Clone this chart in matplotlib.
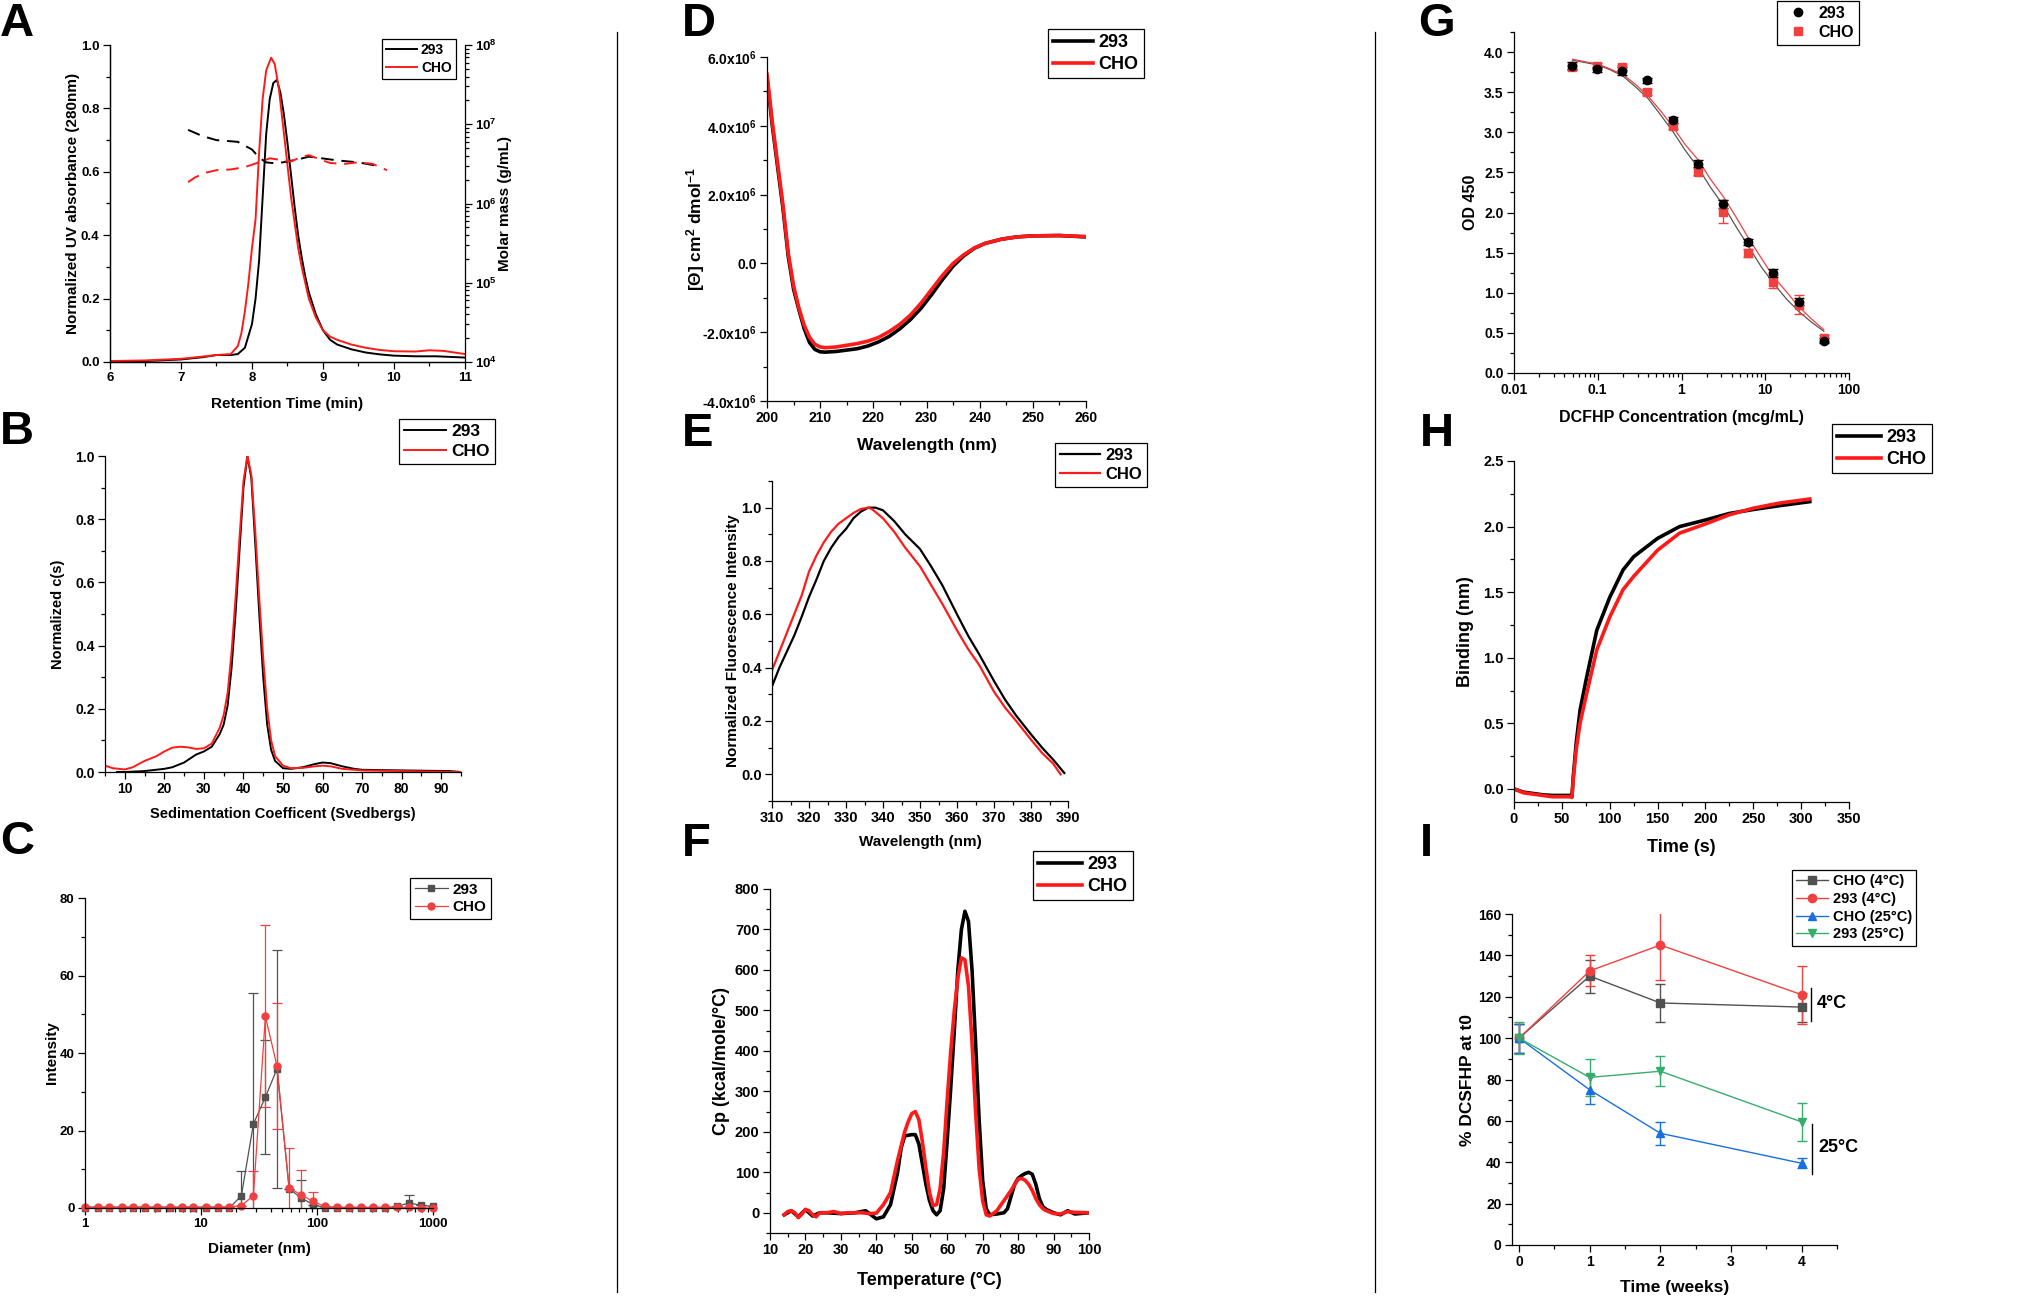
import matplotlib
matplotlib.use("Agg")
import matplotlib.pyplot as plt
from matplotlib.ticker import MultipleLocator, FormatStrFormatter, FixedLocator, FixedFormatter, LogLocator, NullFormatter

# ---------------- data ----------------
# A: SEC-MALS
a_time_293 = [6.0, 6.5, 7.0, 7.3, 7.5, 7.7, 7.8, 7.9, 8.0, 8.05, 8.1, 8.15, 8.2, 8.25, 8.3, 8.35, 8.4, 8.45,
              8.5, 8.55, 8.6, 8.65, 8.7, 8.75, 8.8, 8.9, 9.0, 9.1, 9.2, 9.4, 9.6, 9.8, 10.0, 10.3, 10.6, 11.0]
a_uv_293 = [0.0, 0.003, 0.008, 0.015, 0.022, 0.022, 0.025, 0.045, 0.12, 0.2, 0.32, 0.52, 0.72, 0.83, 0.88, 0.89, 0.85, 0.78,
            0.69, 0.59, 0.49, 0.40, 0.33, 0.27, 0.22, 0.15, 0.10, 0.07, 0.055, 0.04, 0.03, 0.024, 0.02, 0.018, 0.018, 0.014]
a_time_cho = [6.0, 6.5, 7.0, 7.3, 7.5, 7.7, 7.8, 7.85, 7.9, 7.95, 8.0, 8.05, 8.1, 8.15, 8.2, 8.27, 8.32, 8.38, 8.45,
              8.5, 8.55, 8.6, 8.65, 8.7, 8.75, 8.8, 8.9, 9.0, 9.1, 9.2, 9.4, 9.6, 9.8, 10.0, 10.3, 10.5, 10.7, 11.0]
a_uv_cho = [0.003, 0.005, 0.01, 0.017, 0.022, 0.025, 0.05, 0.09, 0.16, 0.25, 0.36, 0.45, 0.66, 0.83, 0.92, 0.96, 0.94, 0.86, 0.72,
            0.62, 0.52, 0.44, 0.36, 0.30, 0.25, 0.20, 0.14, 0.10, 0.08, 0.07, 0.055, 0.045, 0.038, 0.034, 0.033, 0.037, 0.035, 0.025]
a_mm_time_293 = [7.1, 7.3, 7.5, 7.8, 8.0, 8.1, 8.2, 8.35, 8.5, 8.65, 8.8, 9.0, 9.2, 9.5, 9.8]
a_mm_293 = [8.5e6, 7.1e6, 6.3e6, 6.0e6, 4.8e6, 3.8e6, 3.3e6, 3.2e6, 3.4e6, 3.6e6, 3.9e6, 3.7e6, 3.5e6, 3.3e6, 2.95e6]
a_mm_time_cho = [7.1, 7.2, 7.35, 7.5, 7.7, 7.9, 8.1, 8.25, 8.4, 8.55, 8.7, 8.8, 8.95, 9.1, 9.3, 9.5, 9.7, 9.9]
a_mm_cho = [1.86e6, 2.14e6, 2.45e6, 2.63e6, 2.69e6, 2.88e6, 3.31e6, 3.72e6, 3.55e6, 3.39e6, 3.89e6, 4.07e6,
            3.63e6, 3.24e6, 3.16e6, 3.31e6, 3.16e6, 2.63e6]

# B: AUC c(s)
b_s_293 = [8, 10, 15, 20, 22, 25, 28, 30, 32, 34, 35, 36, 37, 38, 39, 40, 41, 42, 43, 44, 45, 46, 47, 48, 50, 52,
           55, 58, 60, 62, 65, 68, 70, 80, 92, 95]
b_cs_293 = [0.0, 0.0, 0.003, 0.01, 0.015, 0.03, 0.055, 0.065, 0.08, 0.12, 0.15, 0.21, 0.33, 0.5, 0.7, 0.9, 1.0, 0.93,
            0.72, 0.5, 0.3, 0.15, 0.07, 0.035, 0.012, 0.01, 0.015, 0.025, 0.03, 0.028, 0.018, 0.01, 0.007, 0.005, 0.003, 0.0]
b_s_cho = [5, 7, 10, 12, 15, 18, 20, 22, 24, 26, 28, 30, 32, 34, 35, 36, 37, 38, 39, 40, 41, 42, 43, 44, 45, 46, 47,
           48, 50, 52, 55, 58, 60, 62, 65, 70, 80, 95]
b_cs_cho = [0.02, 0.012, 0.008, 0.015, 0.035, 0.05, 0.065, 0.077, 0.08, 0.078, 0.073, 0.075, 0.09, 0.14, 0.18, 0.25,
            0.38, 0.55, 0.74, 0.92, 1.0, 0.94, 0.76, 0.55, 0.36, 0.2, 0.1, 0.05, 0.02, 0.012, 0.013, 0.018, 0.02,
            0.018, 0.01, 0.005, 0.003, 0.0]

# C: DLS
c_diam = [1.0, 1.3, 1.6, 2.1, 2.6, 3.3, 4.2, 5.4, 6.8, 8.6, 11, 14, 17.6, 22.3, 28.3, 35.9, 45.2, 57.5, 72.8, 92.5,
          117, 148, 188, 239, 303, 384, 488, 619, 785, 1000]
c_int_293 = [0, 0, 0, 0, 0, 0, 0, 0, 0, 0, 0, 0, 0, 3.2, 21.7, 28.6, 35.9, 5.0, 2.6, 0.9,
             0, 0, 0, 0, 0, 0, 0.4, 1.3, 0.7, 0.4]
c_err_293 = [0, 0, 0, 0, 0, 0, 0, 0, 0, 0, 0, 0, 0, 6.4, 33.8, 14.7, 30.7, 0, 4.7, 0,
             0, 0, 0, 0, 0, 0, 0, 2.0, 0, 0]
c_int_cho = [0.3, 0.3, 0.3, 0.3, 0.3, 0.3, 0.3, 0.3, 0.3, 0.3, 0.3, 0.3, 0.3, 0.6, 3.2, 49.5, 36.6, 5.2, 3.4, 1.7,
             0.4, 0.2, 0.2, 0.2, 0.2, 0.2, 0.2, 0.2, 0.0, 0.0]
c_err_cho = [0, 0, 0, 0, 0, 0, 0, 0, 0, 0, 0, 0, 0, 0, 6.4, 23.5, 16.3, 10.3, 6.3, 2.4,
             0, 0, 0, 0, 0, 0, 0, 0, 0, 0]

# D: CD spectra
d_wl_293 = [200, 201, 202, 203, 204, 205, 206, 207, 208, 209, 210, 211, 213, 215, 217, 219, 221, 223, 225, 227, 229,
            231, 233, 235, 237, 239, 241, 244, 247, 250, 255, 260]
d_cd_293 = [5.4e6, 4.0e6, 2.8e6, 1.6e6, 0.2e6, -0.75e6, -1.35e6, -1.9e6, -2.3e6, -2.5e6, -2.57e6, -2.58e6, -2.56e6,
            -2.52e6, -2.48e6, -2.4e6, -2.28e6, -2.12e6, -1.9e6, -1.63e6, -1.3e6, -0.9e6, -0.47e6, -0.08e6, 0.22e6,
            0.44e6, 0.58e6, 0.7e6, 0.77e6, 0.8e6, 0.81e6, 0.77e6]
d_wl_cho = [200, 201, 202, 203, 204, 205, 206, 207, 208, 209, 210, 211, 213, 215, 217, 219, 221, 223, 225, 227, 229,
            231, 233, 235, 237, 239, 241, 244, 247, 250, 255, 260]
d_cd_cho = [5.5e6, 4.1e6, 2.9e6, 1.7e6, 0.3e6, -0.65e6, -1.3e6, -1.8e6, -2.15e6, -2.35e6, -2.43e6, -2.45e6, -2.43e6,
            -2.38e6, -2.33e6, -2.26e6, -2.15e6, -1.98e6, -1.77e6, -1.5e6, -1.15e6, -0.75e6, -0.35e6, 0.0, 0.25e6,
            0.45e6, 0.58e6, 0.7e6, 0.77e6, 0.8e6, 0.81e6, 0.78e6]

# E: intrinsic fluorescence
e_wl_293 = [310, 312, 314, 316, 318, 320, 322, 324, 326, 328, 330, 332, 334, 336, 338, 340, 343, 346, 350, 353, 356,
            360, 363, 366, 370, 373, 376, 380, 383, 386, 389]
e_fl_293 = [0.33, 0.40, 0.46, 0.52, 0.59, 0.665, 0.73, 0.8, 0.85, 0.89, 0.92, 0.96, 0.985, 1.0, 1.0, 0.99, 0.95, 0.9,
            0.845, 0.78, 0.71, 0.6, 0.52, 0.45, 0.35, 0.28, 0.22, 0.15, 0.1, 0.055, 0.005]
e_wl_cho = [310, 312, 314, 316, 318, 320, 322, 324, 326, 328, 330, 332, 334, 336, 337, 340, 343, 346, 350, 353, 356,
            360, 363, 366, 370, 373, 376, 380, 383, 386, 388]
e_fl_cho = [0.39, 0.46, 0.53, 0.60, 0.67, 0.76, 0.82, 0.87, 0.91, 0.94, 0.96, 0.98, 0.995, 1.0, 0.995, 0.96, 0.91,
            0.85, 0.78, 0.71, 0.64, 0.54, 0.47, 0.41, 0.31, 0.25, 0.2, 0.13, 0.08, 0.04, 0.0]

# F: DSC
f_temp_293 = [14, 16, 18, 20, 22, 24, 26, 30, 34, 37, 40, 42, 44, 46, 47, 48, 50, 51, 52, 53, 54, 55, 56, 57, 58,
              59, 60, 61, 62, 63, 64, 65, 66, 67, 68, 69, 70, 71, 72, 74, 76, 77, 78, 79, 80, 81, 82, 83, 84, 85,
              86, 87, 88, 90, 92, 94, 96, 100]
f_cp_293 = [-5, 5, -10, 8, -8, 0, 0, -2, 0, 5, -15, -10, 20, 100, 160, 190, 193, 193, 170, 120, 70, 30, 5, -5, 5,
            60, 180, 310, 450, 600, 700, 745, 720, 600, 420, 230, 80, 10, -5, -3, 0, 10, 40, 70, 85, 92, 97, 100,
            95, 70, 35, 15, 8, 0, -5, 5, -3, 0]
f_temp_cho = [14, 15, 16, 17, 18, 19, 20, 21, 22, 23, 24, 26, 28, 30, 32, 34, 36, 38, 40, 42, 44, 46, 48, 49, 50, 51,
              52, 53, 54, 55, 56, 57, 58, 59, 60, 61, 62, 63, 64, 65, 66, 67, 68, 69, 70, 71, 72, 74, 76, 78, 80,
              81, 82, 83, 84, 85, 86, 87, 88, 90, 92, 94, 96, 100]
f_cp_cho = [-5, 3, 5, 0, -12, -3, 8, 5, -5, -10, 0, 0, 3, -2, 0, 0, 0, -2, -1, 20, 50, 130, 200, 225, 245, 250, 230,
            175, 110, 50, 18, 20, 60, 150, 280, 400, 500, 580, 630, 625, 560, 420, 250, 110, 30, -5, -8, 5, 30, 55,
            83, 85, 80, 70, 55, 35, 20, 10, 5, -2, -3, 3, 1, 0]

# G: competition ELISA
g_conc = [0.0488, 0.0977, 0.195, 0.391, 0.781, 1.5625, 3.125, 6.25, 12.5, 25, 50]
g_od_293 = [3.83, 3.785, 3.76, 3.65, 3.15, 2.61, 2.11, 1.63, 1.25, 0.89, 0.40]
g_err_293 = [0.04, 0.03, 0.05, 0.03, 0.04, 0.04, 0.05, 0.04, 0.05, 0.04, 0.03]
g_od_cho = [3.81, 3.83, 3.81, 3.50, 3.08, 2.51, 2.01, 1.50, 1.14, 0.85, 0.43]
g_err_cho = [0.03, 0.03, 0.03, 0.04, 0.04, 0.04, 0.14, 0.05, 0.08, 0.12, 0.04]
g_fit_conc = [0.05, 0.07, 0.1, 0.14, 0.2, 0.28, 0.4, 0.56, 0.8, 1.1, 1.6, 2.2, 3.2, 4.5, 6.3, 9, 12.5, 18, 25, 35, 50]
g_fit_293 = [3.90, 3.87, 3.84, 3.78, 3.70, 3.57, 3.42, 3.22, 3.0, 2.78, 2.55, 2.32, 2.08, 1.82, 1.58, 1.32, 1.12,
             0.92, 0.77, 0.64, 0.52]
g_fit_cho = [3.91, 3.88, 3.85, 3.79, 3.72, 3.60, 3.45, 3.27, 3.06, 2.85, 2.65, 2.42, 2.19, 1.94, 1.68, 1.43, 1.20,
             1.01, 0.83, 0.68, 0.54]

# H: BLI binding
h_t_293 = [0, 10, 20, 30, 40, 50, 59, 60.5, 62, 65, 69, 76, 86.5, 100, 114, 125, 150, 173, 200, 225, 250, 278, 309]
h_bind_293 = [0.0, -0.025, -0.035, -0.045, -0.05, -0.05, -0.05, -0.06, 0.1, 0.35, 0.6, 0.855, 1.21, 1.46, 1.67,
              1.77, 1.91, 2.0, 2.05, 2.1, 2.13, 2.16, 2.19]
h_t_cho = [0, 10, 20, 30, 40, 50, 59, 60.5, 62, 65, 69, 76, 86.5, 100, 114, 125, 150, 173, 200, 225, 250, 278, 309]
h_bind_cho = [0.0, -0.03, -0.04, -0.05, -0.06, -0.06, -0.06, -0.065, 0.08, 0.3, 0.5, 0.73, 1.06, 1.31, 1.52, 1.62,
              1.82, 1.95, 2.02, 2.09, 2.14, 2.18, 2.21]

# I: stability
i_weeks = [0, 1, 2, 4]
i_cho_4 = [100, 130, 117, 115]
i_cho_4_err = [7, 8, 9.3, 7]
i_293_4 = [100, 132.5, 145, 121]
i_293_4_err = [7, 7.5, 17, 14]
i_cho_25 = [100, 75, 54, 39.5]
i_cho_25_err = [7, 7, 5.6, 2.4]
i_293_25 = [100, 81, 84, 59.5]
i_293_25_err = [7.6, 9, 7.2, 9]

# ---------------- figure ----------------
W, H = 2041, 1298
plt.rcParams['font.family'] = ['Liberation Sans Narrow', 'Liberation Sans', 'DejaVu Sans']
plt.rcParams['font.weight'] = 'bold'
plt.rcParams['axes.labelweight'] = 'bold'
plt.rcParams['mathtext.fontset'] = 'custom'
plt.rcParams['mathtext.rm'] = 'Liberation Sans:bold'
plt.rcParams['mathtext.it'] = 'Liberation Sans:bold'
plt.rcParams['mathtext.bf'] = 'Liberation Sans:bold'
plt.rcParams['axes.linewidth'] = 0.9

RED = '#ff1a1a'
O_GRAY, O_RED, O_BLUE, O_GREEN = '#515151', '#F14040', '#1A6FDF', '#37AD6B'

fig = plt.figure(figsize=(W / 100, H / 100), dpi=100)


def new_ax(rect):
    l, t, r, b = rect
    ax = fig.add_axes([l / W, 1 - b / H, (r - l) / W, (b - t) / H])
    ax.spines['top'].set_visible(False)
    ax.spines['right'].set_visible(False)
    ax.tick_params(which='major', direction='out', length=5, width=0.9, pad=2.5)
    ax.tick_params(which='minor', direction='out', length=3, width=0.9)
    return ax


def place_labels(ax, rect, xlabel, ylabel, xl_top, yl_right, fs):
    l, t, r, b = rect
    ax.set_xlabel(xlabel, fontsize=fs, fontweight='bold')
    ax.set_ylabel(ylabel, fontsize=fs, fontweight='bold')
    ax.xaxis.set_label_coords(0.5, (b - xl_top) / (b - t))
    ax.yaxis.set_label_coords((yl_right - l) / (r - l), 0.5)


def legend_at(ax, handles, labels, left, top, fs, **kw):
    leg = ax.legend(handles, labels, loc='upper left', bbox_to_anchor=(left / W, 1 - top / H),
                    bbox_transform=fig.transFigure, borderaxespad=0, fancybox=False, edgecolor='black',
                    framealpha=1, fontsize=fs, borderpad=0.3, labelspacing=0.25, handletextpad=0.3, **kw)
    leg.get_frame().set_linewidth(0.9)
    for t in leg.get_texts():
        t.set_fontweight('bold')
    return leg


def letter(x, y, s):
    fig.text(x / W, 1 - y / H, s, fontsize=34, fontweight='bold', va='top', ha='left',
             family=['Liberation Sans', 'DejaVu Sans'])


# ---- A ----
rA = (110, 45, 465, 362)
ax = new_ax(rA)
l1, = ax.plot(a_time_293, a_uv_293, color='black', lw=1.4)
l2, = ax.plot(a_time_cho, a_uv_cho, color=RED, lw=1.4)
ax.set_xlim(6, 11)
ax.set_ylim(0, 1.0)
ax.xaxis.set_major_locator(MultipleLocator(1))
ax.xaxis.set_minor_locator(MultipleLocator(0.5))
ax.yaxis.set_major_locator(MultipleLocator(0.2))
ax.yaxis.set_minor_locator(MultipleLocator(0.1))
ax.yaxis.set_major_formatter(FormatStrFormatter('%.1f'))
ax.tick_params(labelsize=9.5)
place_labels(ax, rA, 'Retention Time (min)', 'Normalized UV absorbance (280nm)', 397, 80, 11)
ax2 = ax.twinx()
ax2.spines['top'].set_visible(False)
ax2.plot(a_mm_time_293, a_mm_293, color='black', lw=1.4, dashes=(6.5, 4))
ax2.plot(a_mm_time_cho, a_mm_cho, color=RED, lw=1.4, dashes=(6.5, 4))
ax2.set_yscale('log')
ax2.set_ylim(1e4, 1e8)
ax2.tick_params(which='major', direction='out', length=5, width=0.9, labelsize=9.5, pad=2)
ax2.tick_params(which='minor', direction='out', length=3, width=0.9)
ax2.set_ylabel('Molar mass (g/mL)', fontsize=11, fontweight='bold')
ax2.yaxis.set_label_coords((498 - 110) / (465 - 110), 0.5)
legend_at(ax, [l1, l2], ['293', 'CHO'], 382, 39, 10, handlelength=2.2)
letter(0, 2, 'A')

# ---- B ----
rB = (105, 456, 461, 772)
ax = new_ax(rB)
l1, = ax.plot(b_s_293, b_cs_293, color='black', lw=1.4)
l2, = ax.plot(b_s_cho, b_cs_cho, color=RED, lw=1.4)
ax.set_xlim(5, 95)
ax.set_ylim(0, 1.0)
ax.xaxis.set_major_locator(MultipleLocator(10))
ax.xaxis.set_minor_locator(MultipleLocator(5))
ax.yaxis.set_major_locator(MultipleLocator(0.2))
ax.yaxis.set_minor_locator(MultipleLocator(0.1))
ax.yaxis.set_major_formatter(FormatStrFormatter('%.1f'))
ax.tick_params(labelsize=10)
place_labels(ax, rB, 'Sedimentation Coefficent (Svedbergs)', 'Normalized c(s)', 807, 65, 10.5)
legend_at(ax, [l1, l2], ['293', 'CHO'], 399, 419, 12.5, handlelength=2.4)
letter(0, 410, 'B')

# ---- C ----
rC = (85, 898, 433, 1208)
ax = new_ax(rC)
e1 = ax.errorbar(c_diam, c_int_293, yerr=c_err_293, color=O_GRAY, marker='s', ms=5, lw=0.9, elinewidth=0.9,
                 capsize=3.5, capthick=0.9)
e2 = ax.errorbar(c_diam, c_int_cho, yerr=c_err_cho, color=O_RED, marker='o', ms=5, lw=0.9, elinewidth=0.9,
                 capsize=3.5, capthick=0.9)
e1[0].set_clip_on(False)
e2[0].set_clip_on(False)
ax.set_xscale('log')
ax.set_xlim(1, 1000)
ax.set_ylim(0, 80)
ax.xaxis.set_major_locator(FixedLocator([1, 10, 100, 1000]))
ax.xaxis.set_major_formatter(FixedFormatter(['1', '10', '100', '1000']))
ax.xaxis.set_minor_locator(LogLocator(base=10, subs=range(2, 10)))
ax.xaxis.set_minor_formatter(NullFormatter())
ax.yaxis.set_major_locator(MultipleLocator(20))
ax.yaxis.set_minor_locator(MultipleLocator(10))
ax.tick_params(labelsize=9.5)
place_labels(ax, rC, 'Diameter (nm)', 'Intensity', 1242, 59, 11)
legend_at(ax, [e1[0], e2[0]], ['293', 'CHO'], 410, 878, 11, handlelength=2.2)
letter(0, 820, 'C')

# ---- D ----
rD = (767, 57, 1086, 401)
ax = new_ax(rD)
l1, = ax.plot(d_wl_293, d_cd_293, color='black', lw=2.6)
l2, = ax.plot(d_wl_cho, d_cd_cho, color=RED, lw=2.6)
ax.set_xlim(200, 260)
ax.set_ylim(-4e6, 6e6)
ax.xaxis.set_major_locator(MultipleLocator(10))
ax.xaxis.set_minor_locator(MultipleLocator(5))
ax.yaxis.set_major_locator(FixedLocator([-4e6, -2e6, 0, 2e6, 4e6, 6e6]))
ax.yaxis.set_major_formatter(FixedFormatter(['-4.0x10$^6$', '-2.0x10$^6$', '0.0', '2.0x10$^6$',
                                             '4.0x10$^6$', '6.0x10$^6$']))
ax.yaxis.set_minor_locator(MultipleLocator(1e6))
ax.tick_params(labelsize=10)
place_labels(ax, rD, 'Wavelength (nm)', '[Θ] cm$^2$ dmol$^{-1}$', 438, 707, 12.5)
legend_at(ax, [l1, l2], ['293', 'CHO'], 1048, 29, 13, handlelength=2.2)
letter(682, 2, 'D')

# ---- E ----
rE = (772, 481, 1068, 801)
ax = new_ax(rE)
l1, = ax.plot(e_wl_293, e_fl_293, color='black', lw=1.6)
l2, = ax.plot(e_wl_cho, e_fl_cho, color=RED, lw=1.6)
ax.set_xlim(310, 390)
ax.set_ylim(-0.1, 1.1)
ax.xaxis.set_major_locator(MultipleLocator(10))
ax.xaxis.set_minor_locator(MultipleLocator(5))
ax.yaxis.set_major_locator(FixedLocator([0, 0.2, 0.4, 0.6, 0.8, 1.0]))
ax.yaxis.set_major_formatter(FormatStrFormatter('%.1f'))
ax.yaxis.set_minor_locator(FixedLocator([-0.1, 0.1, 0.3, 0.5, 0.7, 0.9, 1.1]))
ax.tick_params(labelsize=10.5)
place_labels(ax, rE, 'Wavelength (nm)', 'Normalized Fluorescence Intensity', 835, 740, 11)
legend_at(ax, [l1, l2], ['293', 'CHO'], 1055, 443, 12, handlelength=2.4)
letter(682, 412, 'E')

# ---- F ----
rF = (770, 889, 1089, 1233)
ax = new_ax(rF)
l1, = ax.plot(f_temp_293, f_cp_293, color='black', lw=2.6)
l2, = ax.plot(f_temp_cho, f_cp_cho, color=RED, lw=2.6)
ax.set_xlim(10, 100)
ax.set_ylim(-50, 800)
ax.xaxis.set_major_locator(MultipleLocator(10))
ax.xaxis.set_minor_locator(MultipleLocator(5))
ax.yaxis.set_major_locator(MultipleLocator(100))
ax.yaxis.set_minor_locator(MultipleLocator(50))
ax.tick_params(labelsize=10.5)
place_labels(ax, rF, 'Temperature (°C)', 'Cp (kcal/mole/°C)', 1272, 730, 13)
legend_at(ax, [l1, l2], ['293', 'CHO'], 1033, 851, 13, handlelength=2.4)
letter(682, 822, 'F')

# ---- G ----
rG = (1514, 32, 1849, 373)
ax = new_ax(rG)
ax.plot(g_fit_conc, g_fit_293, color='#555555', lw=0.9)
ax.plot(g_fit_conc, g_fit_cho, color=O_RED, lw=0.9)
e2 = ax.errorbar(g_conc, g_od_cho, yerr=g_err_cho, fmt='s', color=O_RED, ms=6, elinewidth=1,
                 capsize=3.5, capthick=1)
e1 = ax.errorbar(g_conc, g_od_293, yerr=g_err_293, fmt='o', color='black', ms=6, elinewidth=1,
                 capsize=3.5, capthick=1)
ax.set_xscale('log')
ax.set_xlim(0.01, 100)
ax.set_ylim(0, 4.25)
ax.xaxis.set_major_locator(FixedLocator([0.01, 0.1, 1, 10, 100]))
ax.xaxis.set_major_formatter(FixedFormatter(['0.01', '0.1', '1', '10', '100']))
ax.xaxis.set_minor_locator(LogLocator(base=10, subs=range(2, 10)))
ax.xaxis.set_minor_formatter(NullFormatter())
ax.yaxis.set_major_locator(MultipleLocator(0.5))
ax.yaxis.set_minor_locator(MultipleLocator(0.25))
ax.yaxis.set_major_formatter(FormatStrFormatter('%.1f'))
ax.tick_params(labelsize=10)
place_labels(ax, rG, 'DCFHP Concentration (mcg/mL)', 'OD 450', 410, 1478, 11.5)
legend_at(ax, [e1[0], e2[0]], ['293', 'CHO'], 1777, 1, 11.5, handlelength=2.0)
letter(1418, 2, 'G')

# ---- H ----
rH = (1514, 461, 1849, 802)
ax = new_ax(rH)
l1, = ax.plot(h_t_293, h_bind_293, color='black', lw=2.6)
l2, = ax.plot(h_t_cho, h_bind_cho, color=RED, lw=2.6)
ax.set_xlim(0, 350)
ax.set_ylim(-0.1, 2.5)
ax.xaxis.set_major_locator(MultipleLocator(50))
ax.xaxis.set_minor_locator(MultipleLocator(25))
ax.yaxis.set_major_locator(FixedLocator([0, 0.5, 1.0, 1.5, 2.0, 2.5]))
ax.yaxis.set_minor_locator(FixedLocator([0.25, 0.75, 1.25, 1.75, 2.25]))
ax.yaxis.set_major_formatter(FormatStrFormatter('%.1f'))
ax.tick_params(labelsize=10.5)
place_labels(ax, rH, 'Time (s)', 'Binding (nm)', 839, 1474, 13)
legend_at(ax, [l1, l2], ['293', 'CHO'], 1832, 424, 13, handlelength=2.4)
letter(1420, 412, 'H')

# ---- I ----
rI = (1512, 914, 1837, 1245)
ax = new_ax(rI)
ie1 = ax.errorbar(i_weeks, i_cho_4, yerr=i_cho_4_err, color=O_GRAY, marker='s', ms=6, lw=1, capsize=3.5,
                  elinewidth=1, capthick=1)
ie2 = ax.errorbar(i_weeks, i_293_4, yerr=i_293_4_err, color=O_RED, marker='o', ms=6, lw=1, capsize=3.5,
                  elinewidth=1, capthick=1)
ie3 = ax.errorbar(i_weeks, i_cho_25, yerr=i_cho_25_err, color=O_BLUE, marker='^', ms=6, lw=1, capsize=3.5,
                  elinewidth=1, capthick=1)
ie4 = ax.errorbar(i_weeks, i_293_25, yerr=i_293_25_err, color=O_GREEN, marker='v', ms=6, lw=1, capsize=3.5,
                  elinewidth=1, capthick=1)
ax.set_xlim(-0.1, 4.5)
ax.set_ylim(0, 160)
ax.xaxis.set_major_locator(MultipleLocator(1))
ax.xaxis.set_minor_locator(MultipleLocator(0.5))
ax.yaxis.set_major_locator(MultipleLocator(20))
ax.yaxis.set_minor_locator(MultipleLocator(10))
ax.tick_params(labelsize=10)
place_labels(ax, rI, 'Time (weeks)', '% DCSFHP at t0', 1280, 1475, 12.5)
legend_at(ax, [ie1[0], ie2[0], ie3[0], ie4[0]], ['CHO (4°C)', '293 (4°C)', 'CHO (25°C)', '293 (25°C)'],
          1792, 870, 10.5, handlelength=2.2)
ax.plot([4.13, 4.13], [108.5, 124], color='black', lw=1, clip_on=False)
ax.text(4.22, 116.5, '4°C', fontsize=13, fontweight='bold', va='center', ha='left')
ax.plot([4.14, 4.14], [34.2, 58.5], color='black', lw=1, clip_on=False)
ax.text(4.23, 47, '25°C', fontsize=13, fontweight='bold', va='center', ha='left')
letter(1420, 822, 'I')

# dividers between columns
for xd in (617, 1375):
    fig.add_artist(plt.Line2D([xd / W, xd / W], [1 - 32 / H, 1 - 1292 / H], color='black', lw=0.9))

fig.savefig('out.png', dpi=100)
